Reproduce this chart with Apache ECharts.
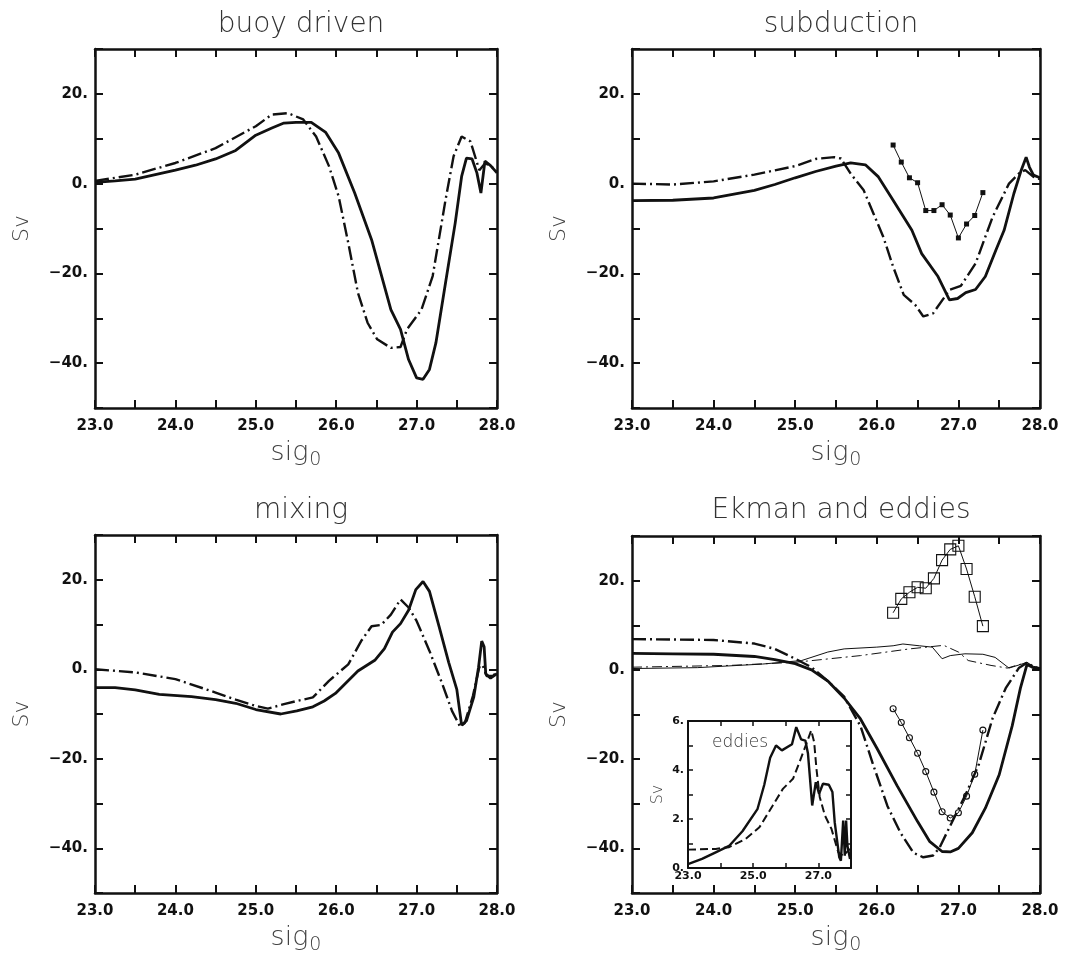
<!DOCTYPE html>
<html><head><meta charset="utf-8">
<script src="https://cdn.jsdelivr.net/npm/echarts@6/dist/echarts.min.js"></script>
<style>html,body{margin:0;padding:0;background:#fff}#c{width:1072px;height:963px}</style>
</head><body><div id="c"></div>
<script>
// ---------- data (sig0, Sv) ----------
const panelTitles = ['buoy driven', 'subduction', 'mixing', 'Ekman and eddies'];
const xTickLabels = ['23.0', '24.0', '25.0', '26.0', '27.0', '28.0'];
const yTickLabels = ['-40.', '-20.', '0.', '20.'];

const buoySolid = [[23.0,0.3],[23.25,0.6],[23.5,1.0],[23.75,2.0],[24.0,3.0],[24.25,4.1],[24.5,5.5],[24.75,7.4],[25.0,10.8],[25.2,12.4],[25.35,13.5],[25.5,13.65],[25.69,13.65],[25.87,11.4],[26.03,6.8],[26.23,-2.1],[26.44,-12.5],[26.68,-28.1],[26.8,-32.5],[26.9,-39.2],[27.0,-43.3],[27.08,-43.6],[27.16,-41.4],[27.24,-35.5],[27.36,-22.1],[27.48,-8.8],[27.56,1.6],[27.62,5.7],[27.69,5.5],[27.75,2.4],[27.8,-2.1],[27.85,5.0],[27.92,4.0],[28.0,2.4]];
const buoyDash = [[23.0,0.6],[23.5,2.0],[24.0,4.6],[24.5,7.9],[25.0,12.8],[25.2,15.4],[25.4,15.7],[25.59,14.3],[25.75,10.5],[25.91,3.9],[26.03,-2.8],[26.15,-13.2],[26.27,-24.3],[26.39,-31.0],[26.51,-34.7],[26.68,-36.6],[26.8,-36.4],[26.88,-32.5],[27.06,-28.1],[27.2,-20.6],[27.36,-3.6],[27.46,6.1],[27.56,10.5],[27.67,9.4],[27.78,3.0],[27.85,4.5],[27.92,4.0],[28.0,2.6]];

const subSolid = [[23.0,-3.8],[23.5,-3.7],[24.0,-3.2],[24.5,-1.5],[24.75,-0.2],[25.0,1.3],[25.25,2.7],[25.5,3.9],[25.68,4.6],[25.86,4.2],[26.02,1.5],[26.2,-3.7],[26.43,-10.4],[26.55,-15.6],[26.75,-20.7],[26.89,-25.9],[26.99,-25.6],[27.09,-24.3],[27.21,-23.6],[27.33,-20.7],[27.46,-14.8],[27.56,-10.4],[27.68,-2.2],[27.77,3.0],[27.83,5.9],[27.87,3.7],[27.92,1.9],[28.0,1.3]];
const subDash = [[23.0,0.0],[23.5,-0.2],[24.0,0.5],[24.5,2.0],[25.0,3.9],[25.25,5.5],[25.48,5.9],[25.56,5.6],[25.68,2.2],[25.84,-1.5],[25.96,-6.7],[26.08,-11.9],[26.2,-18.5],[26.33,-24.8],[26.47,-27.0],[26.57,-29.6],[26.69,-28.9],[26.89,-23.7],[27.03,-22.8],[27.21,-17.8],[27.42,-7.4],[27.62,0.0],[27.76,2.6],[27.82,3.0],[27.92,1.5],[28.0,1.0]];
const obsX = [26.2,26.3,26.4,26.5,26.6,26.7,26.8,26.9,27.0,27.1,27.2,27.3];
const subObs = [8.6,4.8,1.3,0.2,-6.0,-6.0,-4.7,-7.0,-12.1,-9.0,-7.1,-2.0];

const mixSolid = [[23.0,-4.1],[23.25,-4.1],[23.5,-4.6],[23.8,-5.6],[24.2,-6.1],[24.5,-6.8],[24.75,-7.6],[25.0,-9.0],[25.31,-10.0],[25.51,-9.3],[25.71,-8.4],[25.85,-7.1],[25.99,-5.4],[26.27,-0.4],[26.48,2.0],[26.6,4.6],[26.7,8.3],[26.8,10.2],[26.9,13.2],[26.99,17.8],[27.08,19.6],[27.16,17.4],[27.28,9.5],[27.4,1.5],[27.5,-4.5],[27.56,-12.5],[27.62,-11.5],[27.71,-6.3],[27.77,0.4],[27.81,6.3],[27.84,5.0],[27.86,-1.0],[27.92,-2.0],[28.0,-1.0]];
const mixDash = [[23.0,0.0],[23.5,-0.7],[24.0,-2.2],[24.5,-5.2],[24.75,-6.8],[25.0,-8.2],[25.15,-8.8],[25.35,-7.8],[25.51,-7.1],[25.71,-6.3],[25.91,-2.6],[26.15,1.1],[26.31,6.3],[26.44,9.6],[26.56,9.9],[26.68,12.2],[26.8,15.6],[26.9,13.8],[27.0,10.8],[27.16,4.1],[27.32,-3.3],[27.44,-9.3],[27.54,-12.8],[27.6,-12.0],[27.7,-6.0],[27.78,0.5],[27.82,1.0],[27.87,-1.5],[27.95,-1.5],[28.0,-0.5]];

const ekSolid = [[23.0,3.7],[23.5,3.6],[24.0,3.5],[24.5,3.0],[24.75,2.3],[25.0,1.4],[25.2,0.0],[25.4,-2.5],[25.6,-6.3],[25.8,-11.0],[26.0,-17.5],[26.25,-26.0],[26.5,-34.0],[26.65,-38.5],[26.8,-40.7],[26.9,-40.8],[27.0,-40.0],[27.17,-36.5],[27.33,-31.0],[27.5,-23.5],[27.66,-12.5],[27.76,-4.1],[27.84,1.2],[27.92,0.5],[28.0,0.2]];
const ekDash = [[23.0,6.9],[23.5,6.8],[24.0,6.7],[24.5,5.9],[24.75,4.7],[25.0,2.5],[25.2,0.6],[25.4,-2.5],[25.6,-6.0],[25.8,-12.6],[25.96,-21.5],[26.13,-30.5],[26.29,-36.5],[26.45,-41.0],[26.57,-42.0],[26.69,-41.6],[26.77,-39.8],[26.93,-33.8],[27.09,-27.9],[27.25,-21.2],[27.42,-10.8],[27.58,-4.1],[27.74,0.4],[27.84,1.6],[27.92,0.7],[28.0,0.3]];
const ekThinSolid = [[23.0,0.3],[23.8,0.5],[24.6,1.3],[25.08,2.1],[25.4,4.0],[25.6,4.7],[26.0,5.1],[26.2,5.4],[26.32,5.8],[26.52,5.4],[26.68,5.1],[26.8,2.5],[26.9,3.2],[27.08,3.6],[27.3,3.5],[27.45,2.8],[27.62,0.4],[27.76,1.2],[27.84,1.7],[27.92,0.8],[28.0,0.5]];
const ekThinDash = [[23.0,0.6],[24.2,1.0],[25.0,1.7],[25.8,3.2],[26.4,4.7],[26.82,5.5],[27.0,4.0],[27.12,2.1],[27.4,1.0],[27.6,0.4],[27.84,1.7],[27.92,0.4],[28.0,0.2]];
const ekSquares = [12.8,15.9,17.4,18.5,18.3,20.5,24.6,27.0,27.8,22.6,16.4,9.8];
const ekCircles = [-8.7,-11.8,-15.2,-18.7,-22.8,-27.4,-31.8,-33.2,-32.0,-28.3,-23.4,-13.5];

const eddySolid = [[23.0,0.16],[23.43,0.37],[23.85,0.64],[24.26,0.9],[24.67,1.5],[25.13,2.4],[25.34,3.4],[25.52,4.5],[25.7,5.0],[25.88,4.8],[26.19,5.05],[26.32,5.75],[26.47,5.25],[26.6,5.2],[26.68,4.67],[26.81,2.55],[26.92,3.5],[27.02,3.03],[27.14,3.44],[27.32,3.4],[27.43,3.1],[27.5,1.87],[27.64,0.44],[27.69,0.3],[27.76,1.94],[27.81,0.5],[27.85,1.94],[27.89,0.91],[27.97,0.37]];
const eddyDash = [[23.0,0.75],[23.85,0.78],[24.26,0.85],[24.77,1.19],[25.19,1.66],[25.6,2.55],[25.91,3.23],[26.22,3.64],[26.42,4.32],[26.65,5.14],[26.78,5.62],[26.87,5.14],[26.94,4.05],[27.04,2.9],[27.2,2.14],[27.4,1.6],[27.61,0.64],[27.76,0.5],[27.97,0.78]];

// ---------- layout ----------
const grids = [
  {left:95, top:49, width:402, height:359},
  {left:632, top:49, width:408, height:359},
  {left:95, top:535, width:402, height:358},
  {left:632, top:536, width:408, height:357},
  {left:688, top:721, width:163, height:147}
];
const FONT = "'DejaVu Sans', sans-serif";
const INK = '#111';
const DASH = [14,4,2,4];

function fmtY(v){ const s = yTickLabels.find(t => parseFloat(t) === v); return s ? s.replace('-', '\u2212') : ''; }
function fmtX(v){ const s = xTickLabels.find(t => parseFloat(t) === v); return s || ''; }

const xAxes = [], yAxes = [];
for (let g = 0; g < 4; g++) {
  const base = {type:'value', gridIndex:g, min:23, max:28, interval:0.5,
    axisLine:{show:true,onZero:false,lineStyle:{color:INK,width:2.5}},
    axisTick:{show:true,inside:true,length:8,lineStyle:{color:INK,width:2}},
    splitLine:{show:false}};
  xAxes.push(Object.assign({}, base, {position:'bottom',
    axisLabel:{formatter:fmtX, margin:11, fontSize:15, fontWeight:'bold', fontFamily:FONT, color:INK},
    name:'{a|sig}{b|0}', nameLocation:'middle', nameGap:27,
    nameTextStyle:{rich:{a:{fontSize:27, fontFamily:FONT, fontWeight:200, color:'#444'}, b:{fontSize:19, fontFamily:FONT, fontWeight:200, color:'#444', padding:[16,0,0,1]}}}}));
  xAxes.push(Object.assign({}, base, {position:'top', axisLabel:{show:false}}));
  const ybase = {type:'value', gridIndex:g, min:-50, max:30, interval:10,
    axisLine:{show:true,onZero:false,lineStyle:{color:INK,width:2.5}},
    axisTick:{show:true,inside:true,length:8,lineStyle:{color:INK,width:2}},
    splitLine:{show:false}};
  yAxes.push(Object.assign({}, ybase, {position:'left',
    axisLabel:{formatter:fmtY, margin:7, fontSize:15, fontWeight:'bold', fontFamily:FONT, color:INK},
    name:'Sv', nameLocation:'middle', nameGap:62, nameRotate:90,
    nameTextStyle:{fontSize:22, fontFamily:FONT, fontWeight:200, color:'#444'}}));
  yAxes.push(Object.assign({}, ybase, {position:'right', axisLabel:{show:false}}));
}
// inset axes (grid 4)
const ibase = {type:'value', gridIndex:4,
  axisLine:{show:true,onZero:false,lineStyle:{color:INK,width:2}},
  axisTick:{show:true,inside:true,length:5,lineStyle:{color:INK,width:1.5}},
  splitLine:{show:false}};
xAxes.push(Object.assign({}, ibase, {min:23, max:28, interval:1, position:'bottom',
  axisLabel:{formatter:v => ((v-23)%2===0 && v<28) ? v.toFixed(1) : '', margin:3, fontSize:11, fontWeight:'bold', fontFamily:FONT, color:INK}}));
xAxes.push(Object.assign({}, ibase, {min:23, max:28, interval:1, position:'top', axisLabel:{show:false}}));
yAxes.push(Object.assign({}, ibase, {min:0, max:6, interval:1, position:'left',
  axisLabel:{formatter:v => v%2===0 ? v+'.' : '', margin:4, fontSize:11, fontWeight:'bold', fontFamily:FONT, color:INK},
  name:'Sv', nameLocation:'middle', nameGap:22, nameRotate:90,
  nameTextStyle:{fontSize:16, fontFamily:FONT, fontWeight:200, color:'#444'}}));
yAxes.push(Object.assign({}, ibase, {min:0, max:6, interval:1, position:'right', axisLabel:{show:false}}));

function line(g, data, opts) {
  opts = opts || {};
  return {type:'line', xAxisIndex:2*g, yAxisIndex:2*g, data:data,
    showSymbol:false, symbol:'none', silent:true, animation:false, z: opts.z || 3,
    lineStyle:{color:INK, width:opts.width || 2.8, type:opts.type || 'solid'}};
}
function markers(g, ys, sym, size, filled) {
  return {type:'line', xAxisIndex:2*g, yAxisIndex:2*g, data:obsX.map((x,i)=>[x, ys[i]]),
    showSymbol:true, symbol:sym, symbolSize:size, silent:true, animation:false, z:4,
    itemStyle:{color: filled ? INK : 'rgba(0,0,0,0)', borderColor:INK, borderWidth: filled ? 0 : 1.1},
    lineStyle:{color:INK, width:1}};
}

const series = [
  line(0, buoySolid), line(0, buoyDash, {type:DASH, width:2.4}),
  line(1, subSolid), line(1, subDash, {type:DASH, width:2.4}), markers(1, subObs, 'rect', 5, true),
  line(2, mixSolid), line(2, mixDash, {type:DASH, width:2.4}),
  line(3, ekSolid), line(3, ekDash, {type:DASH, width:2.4}),
  line(3, ekThinSolid, {width:1}), line(3, ekThinDash, {type:[10,4,2,4], width:1}),
  markers(3, ekSquares, 'rect', 11, false), markers(3, ekCircles, 'circle', 6, false),
  line(4, eddySolid, {width:2.4, z:6}), line(4, eddyDash, {type:[8,4], width:2, z:6})
];

const titleCenters = [[296, 6], [836, 6], [296, 492], [836, 492]];
const titles = panelTitles.map((t,i) => ({text:t, left:titleCenters[i][0], top:titleCenters[i][1], textAlign:'center',
  textStyle:{fontSize:28, fontFamily:FONT, fontWeight:200, color:'#333'}}));
titles.push({text:'eddies', left:707, top:729, textStyle:{fontSize:17, fontFamily:FONT, fontWeight:200, color:'#333'}});

const chart = echarts.init(document.getElementById('c'), null, {renderer:'canvas'});
chart.setOption({
  backgroundColor:'#fff',
  animation:false,
  title: titles,
  grid: grids.map((g,i) => Object.assign({containLabel:false, show: i===4, backgroundColor:'#fff', borderWidth:0, z: i===4 ? 5 : 0}, g)),
  xAxis: xAxes.map((a,i) => Object.assign(a, {z: i>=8 ? 6 : 0})),
  yAxis: yAxes.map((a,i) => Object.assign(a, {z: i>=8 ? 6 : 0})),
  series: series
});
</script></body></html>
